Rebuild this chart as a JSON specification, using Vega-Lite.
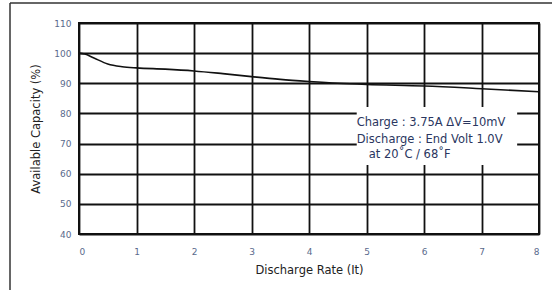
{
  "$schema": "https://vega.github.io/schema/vega-lite/v6.json",
  "autosize": "none",
  "width": 460,
  "height": 211,
  "padding": {"left": 79, "top": 23, "right": 13, "bottom": 56},
  "background": "white",
  "config": {
    "view": {"stroke": "#111", "strokeWidth": 2},
    "font": "DejaVu Sans",
    "axis": {
      "grid": true,
      "gridColor": "#111",
      "gridWidth": 1.8,
      "gridOpacity": 1,
      "domain": false,
      "ticks": false,
      "labelColor": "#5a6a8c",
      "labelFont": "DejaVu Sans",
      "labelFontSize": 9,
      "labelOverlap": false,
      "titleFont": "DejaVu Sans",
      "titleFontSize": 11.5,
      "titleFontWeight": "normal",
      "titleColor": "#222"
    }
  },
  "datasets": {
    "curve": [
      {"rate": 0, "cap": 100},
      {"rate": 0.1, "cap": 99.7},
      {"rate": 0.25, "cap": 98.5},
      {"rate": 0.5, "cap": 96.4},
      {"rate": 0.75, "cap": 95.5},
      {"rate": 1, "cap": 95.1},
      {"rate": 1.5, "cap": 94.7},
      {"rate": 2, "cap": 94.1},
      {"rate": 2.5, "cap": 93.2},
      {"rate": 3, "cap": 92.2},
      {"rate": 3.5, "cap": 91.3},
      {"rate": 4, "cap": 90.6},
      {"rate": 4.5, "cap": 90.0},
      {"rate": 5, "cap": 89.6},
      {"rate": 6, "cap": 89.1},
      {"rate": 7, "cap": 88.2},
      {"rate": 8, "cap": 87.2}
    ],
    "note": [
      {"x": 4.83, "y": 76.7, "label": "Charge : 3.75A  \u0394V=10mV"},
      {"x": 4.83, "y": 71.1, "label": "Discharge : End Volt 1.0V"},
      {"x": 5.04, "y": 66.1, "label": "at 20\u02daC / 68\u02daF"}
    ],
    "box": [
      {"x1": 4.83, "x2": 7.62, "y1": 62.9, "y2": 82.1}
    ]
  },
  "encoding": {
    "x": {"type": "quantitative", "scale": {"domain": [0, 8], "nice": false}, "axis": {"title": "Discharge Rate (It)", "values": [0,1,2,3,4,5,6,7,8], "format": "d", "labelPadding": 13, "titlePadding": 8}},
    "y": {"type": "quantitative", "scale": {"domain": [40, 110], "nice": false}, "axis": {"title": "Available Capacity (%)", "values": [40,50,60,70,80,90,100,110], "format": "d", "labelPadding": 8, "titlePadding": 12}}
  },
  "layer": [
    {
      "data": {"name": "box"},
      "mark": {"type": "rect", "fill": "white", "stroke": null},
      "encoding": {
        "x": {"field": "x1", "type": "quantitative", "scale": {"domain": [0, 8], "nice": false}, "axis": {"title": "Discharge Rate (It)", "values": [0,1,2,3,4,5,6,7,8], "format": "d", "labelPadding": 13, "titlePadding": 8}},
        "x2": {"field": "x2"},
        "y": {"field": "y1", "type": "quantitative", "scale": {"domain": [40, 110], "nice": false}, "axis": {"title": "Available Capacity (%)", "values": [40,50,60,70,80,90,100,110], "format": "d", "labelPadding": 8, "titlePadding": 12}},
        "y2": {"field": "y2"}
      }
    },
    {
      "data": {"name": "curve"},
      "mark": {"type": "line", "color": "#111", "strokeWidth": 1.6, "interpolate": "monotone"},
      "encoding": {
        "x": {"field": "rate", "type": "quantitative", "scale": {"domain": [0, 8], "nice": false}, "axis": {"title": "Discharge Rate (It)", "values": [0,1,2,3,4,5,6,7,8], "format": "d", "labelPadding": 13, "titlePadding": 8}},
        "y": {"field": "cap", "type": "quantitative", "scale": {"domain": [40, 110], "nice": false}, "axis": {"title": "Available Capacity (%)", "values": [40,50,60,70,80,90,100,110], "format": "d", "labelPadding": 8, "titlePadding": 12}}
      }
    },
    {
      "data": {"name": "note"},
      "mark": {"type": "text", "align": "left", "baseline": "middle", "fontSize": 11.5, "color": "#2a3660", "font": "DejaVu Sans"},
      "encoding": {
        "x": {"field": "x", "type": "quantitative", "scale": {"domain": [0, 8], "nice": false}, "axis": {"title": "Discharge Rate (It)", "values": [0,1,2,3,4,5,6,7,8], "format": "d", "labelPadding": 13, "titlePadding": 8}},
        "y": {"field": "y", "type": "quantitative", "scale": {"domain": [40, 110], "nice": false}, "axis": {"title": "Available Capacity (%)", "values": [40,50,60,70,80,90,100,110], "format": "d", "labelPadding": 8, "titlePadding": 12}},
        "text": {"field": "label"}
      }
    },
    {
      "data": {"values": [{}]},
      "mark": {"type": "rule", "color": "#333", "strokeWidth": 1.5, "clip": false},
      "encoding": {
        "x": {"datum": -1.2, "type": "quantitative", "scale": {"domain": [0, 8], "nice": false}, "axis": {"title": "Discharge Rate (It)", "values": [0,1,2,3,4,5,6,7,8], "format": "d", "labelPadding": 13, "titlePadding": 8}},
        "y": {"datum": 116.6, "type": "quantitative", "scale": {"domain": [40, 110], "nice": false}, "axis": {"title": "Available Capacity (%)", "values": [40,50,60,70,80,90,100,110], "format": "d", "labelPadding": 8, "titlePadding": 12}},
        "y2": {"datum": 20}
      }
    },
    {
      "data": {"values": [{}]},
      "mark": {"type": "rule", "color": "#333", "strokeWidth": 1.5, "clip": false},
      "encoding": {
        "x": {"datum": -1.2, "type": "quantitative", "scale": {"domain": [0, 8], "nice": false}, "axis": {"title": "Discharge Rate (It)", "values": [0,1,2,3,4,5,6,7,8], "format": "d", "labelPadding": 13, "titlePadding": 8}},
        "x2": {"datum": 8.4},
        "y": {"datum": 116.6, "type": "quantitative", "scale": {"domain": [40, 110], "nice": false}, "axis": {"title": "Available Capacity (%)", "values": [40,50,60,70,80,90,100,110], "format": "d", "labelPadding": 8, "titlePadding": 12}}
      }
    }
  ]
}
